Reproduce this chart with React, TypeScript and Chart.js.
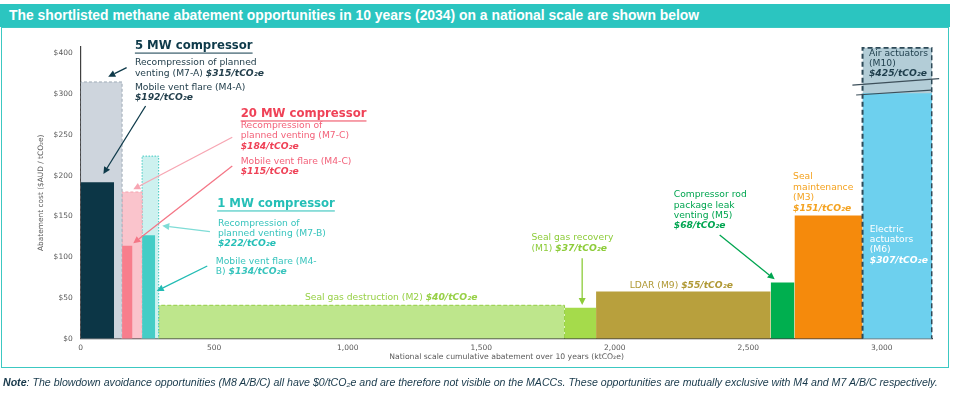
import React, { useEffect, useRef } from 'react';
import { Chart, registerables } from 'chart.js';
Chart.register(...registerables);

// ---------- data ----------
const OPTIONS = ['M7-A', 'M4-A', 'M7-C', 'M4-C', 'M7-B', 'M4-B', 'M2', 'M1', 'M9', 'M5', 'M3', 'M10', 'M6'];
const X_START = [0, 0, 155, 155, 230, 230, 292, 1812, 1930, 2584, 2673, 2928, 2928];
const X_END = [155, 125, 230, 194, 292, 279, 1812, 1930, 2584, 2673, 2928, 3188, 3188];
const COST = [315, 192, 180, 114, 224, 127, 41, 38, 58, 69, 151, 357, 301];
const Y_TICKS = [0, 50, 100, 150, 200, 250, 300, 350];
const Y_TICK_LABELS = ['$0', '$50', '$100', '$150', '$200', '$250', '$300', '$400'];
const X_TICKS = [0, 500, 1000, 1500, 2000, 2500, 3000];

// ---------- styles ----------
const FILL: Record<string, string> = {
  'M7-A': '#CED5DD', 'M4-A': '#0C3646', 'M7-C': '#FAC4CC', 'M4-C': '#F77E8C',
  'M7-B': '#CDF1EF', 'M4-B': '#44CDC6', 'M2': '#BEE68C', 'M1': '#A5DB4B',
  'M9': '#B8A03D', 'M5': '#00AF4F', 'M3': '#F58A0C', 'M10': '#B3CDD7', 'M6': '#6DD0EE',
};
const DASHED: Record<string, { color: string; dash: number[]; width: number }> = {
  'M7-A': { color: '#9FABB7', dash: [3, 2], width: 1 },
  'M7-C': { color: '#F5A3B0', dash: [3, 2], width: 1 },
  'M7-B': { color: '#3CC8C1', dash: [1.5, 1.5], width: 1 },
  'M2': { color: '#93CE44', dash: [4, 2], width: 1 },
  'M10': { color: '#2E4A58', dash: [5, 3], width: 2 },
};

const FONT = '"DejaVu Sans", Verdana, sans-serif';

type Seg = { t: string; b?: boolean };
type Note = { x: number; y: number; color: string; segs: Seg[]; head?: boolean };

const NAVY = '#233F4C';
const RED = '#EF4257';
const PINK = '#F3627A';
const TEAL_H = '#25BFB7';
const TEAL = '#38C4BD';
const NOTES: Note[] = [
  { x: 203, y: 359, color: '#0E3A4A', segs: [{ t: '5 MW compressor' }], head: true },
  { x: 203, y: 338.7, color: NAVY, segs: [{ t: 'Recompression of planned' }] },
  { x: 203, y: 325.7, color: NAVY, segs: [{ t: 'venting (M7-A) ' }, { t: '$315/tCO₂e', b: true }] },
  { x: 203, y: 308.5, color: NAVY, segs: [{ t: 'Mobile vent flare (M4-A)' }] },
  { x: 203, y: 296.2, color: NAVY, segs: [{ t: '$192/tCO₂e', b: true }] },
  { x: 599, y: 275.7, color: RED, segs: [{ t: '20 MW compressor' }], head: true },
  { x: 599, y: 261, color: PINK, segs: [{ t: 'Recompression of' }] },
  { x: 599, y: 248.7, color: PINK, segs: [{ t: 'planned venting (M7-C)' }] },
  { x: 599, y: 235.6, color: RED, segs: [{ t: '$184/tCO₂e', b: true }] },
  { x: 599, y: 216.8, color: PINK, segs: [{ t: 'Mobile vent flare (M4-C)' }] },
  { x: 599, y: 204.6, color: RED, segs: [{ t: '$115/tCO₂e', b: true }] },
  { x: 511, y: 165.3, color: TEAL_H, segs: [{ t: '1 MW compressor' }], head: true },
  { x: 514, y: 141.6, color: TEAL, segs: [{ t: 'Recompression of' }] },
  { x: 514, y: 129.3, color: TEAL, segs: [{ t: 'planned venting (M7-B)' }] },
  { x: 514, y: 116.2, color: TEAL_H, segs: [{ t: '$222/tCO₂e', b: true }] },
  { x: 506, y: 94.1, color: TEAL, segs: [{ t: 'Mobile vent flare (M4-' }] },
  { x: 506, y: 81.8, color: TEAL, segs: [{ t: 'B) ' }, { t: '$134/tCO₂e', b: true }] },
  { x: 840, y: 49.9, color: '#97D046', segs: [{ t: 'Seal gas destruction (M2) ' }, { t: '$40/tCO₂e', b: true }] },
  { x: 1688, y: 123.9, color: '#8DCC3A', segs: [{ t: 'Seal gas recovery' }] },
  { x: 1688, y: 110.9, color: '#8DCC3A', segs: [{ t: '(M1) ' }, { t: '$37/tCO₂e', b: true }] },
  { x: 2056, y: 64.7, color: '#B09935', segs: [{ t: 'LDAR (M9) ' }, { t: '$55/tCO₂e', b: true }] },
  { x: 2221, y: 176.3, color: '#00A550', segs: [{ t: 'Compressor rod' }] },
  { x: 2221, y: 163.2, color: '#00A550', segs: [{ t: 'package leak' }] },
  { x: 2221, y: 150.9, color: '#00A550', segs: [{ t: 'venting (M5)' }] },
  { x: 2221, y: 138.7, color: '#00A550', segs: [{ t: '$68/tCO₂e', b: true }] },
  { x: 2668, y: 198.8, color: '#F4A21F', segs: [{ t: 'Seal' }] },
  { x: 2668, y: 185.8, color: '#F4A21F', segs: [{ t: 'maintenance' }] },
  { x: 2668, y: 173, color: '#F4A21F', segs: [{ t: '(M3)' }] },
  { x: 2668, y: 160, color: '#F4A21F', segs: [{ t: '$151/tCO₂e', b: true }] },
  { x: 2955, y: 134.2, color: '#FFFFFF', segs: [{ t: 'Electric' }] },
  { x: 2955, y: 121.1, color: '#FFFFFF', segs: [{ t: 'actuators' }] },
  { x: 2955, y: 108.8, color: '#FFFFFF', segs: [{ t: '(M6)' }] },
  { x: 2955, y: 95.7, color: '#FFFFFF', segs: [{ t: '$307/tCO₂e', b: true }] },
  { x: 2952, y: 350.2, color: '#1E3E4C', segs: [{ t: 'Air actuators' }] },
  { x: 2952, y: 337.9, color: '#1E3E4C', segs: [{ t: '(M10)' }] },
  { x: 2952, y: 325.6, color: '#1E3E4C', segs: [{ t: '$425/tCO₂e', b: true }] },
];

type Arrow = { x1: number; y1: number; x2: number; y2: number; color: string };
const ARROWS: Arrow[] = [
  { x1: 172, y1: 332.5, x2: 103, y2: 321.5, color: '#0E3A4A' },
  { x1: 243, y1: 285.5, x2: 85, y2: 202.1, color: '#0E3A4A' },
  { x1: 567.6, y1: 247.1, x2: 197, y2: 183.3, color: '#F7A6B3' },
  { x1: 567.6, y1: 211.9, x2: 197, y2: 117, color: '#F47686' },
  { x1: 484, y1: 131.3, x2: 305.5, y2: 138.7, color: '#7FDCD6' },
  { x1: 474, y1: 89.2, x2: 284.5, y2: 58.5, color: '#22BCB4' },
  { x1: 1878, y1: 98.7, x2: 1878, y2: 41.3, color: '#8DCC3A' },
  { x1: 2393, y1: 127.2, x2: 2599, y2: 72.9, color: '#00A550' },
];

const BREAKS = [
  { x1: 2890, y1: 311, x2: 3215, y2: 319 },
  { x1: 2904, y1: 299, x2: 3185, y2: 305 },
];

const rect = (i: number) => [
  { x: X_START[i], y: 0 },
  { x: X_START[i], y: COST[i] },
  { x: X_END[i], y: COST[i] },
  { x: X_END[i], y: 0 },
];

const annotationPlugin = {
  id: 'maccNotes',
  afterDatasetsDraw(chart: any) {
    const { ctx, scales } = chart;
    const xs = scales.x;
    const ys = scales.y;
    const px = (v: number) => xs.getPixelForValue(v);
    const py = (v: number) => ys.getPixelForValue(v);
    ctx.save();
    ctx.strokeStyle = '#3C4F5A';
    ctx.lineWidth = 1.2;
    BREAKS.forEach((b) => {
      ctx.beginPath();
      ctx.moveTo(px(b.x1), py(b.y1));
      ctx.lineTo(px(b.x2), py(b.y2));
      ctx.stroke();
    });
    ARROWS.forEach((a) => {
      const x1 = px(a.x1), y1 = py(a.y1), x2 = px(a.x2), y2 = py(a.y2);
      const ang = Math.atan2(y2 - y1, x2 - x1);
      const hl = 7, hw = 3.5;
      const bx = x2 - hl * Math.cos(ang), by = y2 - hl * Math.sin(ang);
      ctx.strokeStyle = a.color;
      ctx.fillStyle = a.color;
      ctx.lineWidth = 1.3;
      ctx.beginPath();
      ctx.moveTo(x1, y1);
      ctx.lineTo(bx, by);
      ctx.stroke();
      ctx.beginPath();
      ctx.moveTo(x2, y2);
      ctx.lineTo(bx + hw * Math.sin(ang), by - hw * Math.cos(ang));
      ctx.lineTo(bx - hw * Math.sin(ang), by + hw * Math.cos(ang));
      ctx.closePath();
      ctx.fill();
    });
    ctx.textBaseline = 'middle';
    ctx.textAlign = 'left';
    NOTES.forEach((n) => {
      let x = px(n.x);
      const y = py(n.y);
      const size = n.head ? 11.7 : 9.2;
      n.segs.forEach((s) => {
        ctx.font = n.head ? `bold ${size}px ${FONT}` : s.b ? `italic bold ${size}px ${FONT}` : `${size}px ${FONT}`;
        ctx.fillStyle = n.color;
        ctx.fillText(s.t, x, y);
        const w = ctx.measureText(s.t).width;
        if (n.head) {
          ctx.strokeStyle = n.color;
          ctx.lineWidth = 1;
          ctx.beginPath();
          ctx.moveTo(x, y + 7);
          ctx.lineTo(x + w, y + 7);
          ctx.stroke();
        }
        x += w;
      });
    });
    ctx.restore();
  },
};

export default function App() {
  const ref = useRef<HTMLCanvasElement>(null);
  useEffect(() => {
    if (!ref.current) return;
    const datasets: any[] = [];
    OPTIONS.forEach((name, i) => {
      const d = DASHED[name];
      const base = {
        type: 'line',
        label: name,
        data: rect(i),
        pointRadius: 0,
        pointHoverRadius: 0,
        tension: 0,
      };
      if (name === 'M10') {
        datasets.push({ ...base, fill: 'origin', backgroundColor: FILL[name], borderColor: 'transparent', borderWidth: 1, order: 3 });
        datasets.push({ ...base, fill: false, borderColor: d.color, borderWidth: d.width, borderDash: d.dash, order: 0 });
      } else if (d) {
        datasets.push({ ...base, fill: 'origin', backgroundColor: FILL[name], borderColor: d.color, borderWidth: d.width, borderDash: d.dash, order: 2 });
      } else {
        datasets.push({ ...base, fill: 'origin', backgroundColor: FILL[name], borderColor: 'transparent', borderWidth: 1, order: 1 });
      }
    });
    const chart = new Chart(ref.current, {
      type: 'line',
      data: { datasets },
      plugins: [annotationPlugin],
      options: {
        responsive: false,
        animation: false,
        events: [],
        layout: { padding: { left: 0, right: 21.5, top: 46.9, bottom: 25.3 } },
        plugins: { legend: { display: false }, tooltip: { enabled: false } },
        scales: {
          x: {
            type: 'linear',
            min: 0,
            max: 3190,
            grid: { display: false, drawTicks: false },
            border: { display: true, color: '#404040', width: 1.2 },
            afterBuildTicks: (s: any) => { s.ticks = X_TICKS.map((v) => ({ value: v })); },
            afterFit: (s: any) => { s.height = 30; },
            ticks: {
              padding: 5,
              color: '#595959',
              font: { family: FONT, size: 7.5 },
              maxRotation: 0,
              callback: (v: any) => Number(v).toLocaleString('en-US'),
            },
            title: {
              display: true,
              text: 'National scale cumulative abatement over 10 years (ktCO₂e)',
              color: '#595959',
              font: { family: FONT, size: 7.7 },
              padding: { top: 0, bottom: 7.2 },
            },
          },
          y: {
            type: 'linear',
            min: 0,
            max: 358,
            grid: { display: false, drawTicks: false },
            border: { display: true, color: '#404040', width: 1.2 },
            afterBuildTicks: (s: any) => { s.ticks = Y_TICKS.map((v) => ({ value: v })); },
            afterFit: (s: any) => { s.width = 80.7; },
            ticks: {
              padding: 8,
              color: '#595959',
              font: { family: FONT, size: 7.5 },
              callback: (v: any) => Y_TICK_LABELS[Y_TICKS.indexOf(Number(v))] ?? '',
            },
            title: {
              display: true,
              text: 'Abatement cost ($AUD / tCO₂e)',
              color: '#595959',
              font: { family: FONT, size: 7.4 },
              padding: { top: 36.5, bottom: 0 },
            },
          },
        },
      },
    } as any);
    return () => chart.destroy();
  }, []);

  return (
    <div style={{ position: 'absolute', left: 0, top: 0, width: 954, height: 394, background: '#fff', overflow: 'hidden' }}>
      <div style={{ position: 'absolute', left: 1, top: 27, width: 948, height: 341, boxSizing: 'border-box', border: '1.5px solid #3CC8C2' }} />
      <div style={{ position: 'absolute', left: 0, top: 4, width: 950, height: 23, background: '#2BC5C0', color: '#fff', fontFamily: '"Liberation Sans", Arial, sans-serif', fontWeight: 'bold', fontSize: 13.9, lineHeight: '23px', paddingLeft: 9, boxSizing: 'border-box', whiteSpace: 'nowrap' }}>
        The shortlisted methane abatement opportunities in 10 years (2034) on a national scale are shown below
      </div>
      <canvas ref={ref} width={954} height={394} style={{ position: 'absolute', left: 0, top: 0, width: 954, height: 394 }} />
      <div style={{ position: 'absolute', left: 3, top: 376, fontFamily: '"Liberation Sans", Arial, sans-serif', fontStyle: 'italic', fontSize: 10.6, color: '#17384A', whiteSpace: 'nowrap' }}>
        <b>Note</b>: The blowdown avoidance opportunities (M8 A/B/C) all have $0/tCO₂e and are therefore not visible on the MACCs. These opportunities are mutually exclusive with M4 and M7 A/B/C respectively.
      </div>
    </div>
  );
}
